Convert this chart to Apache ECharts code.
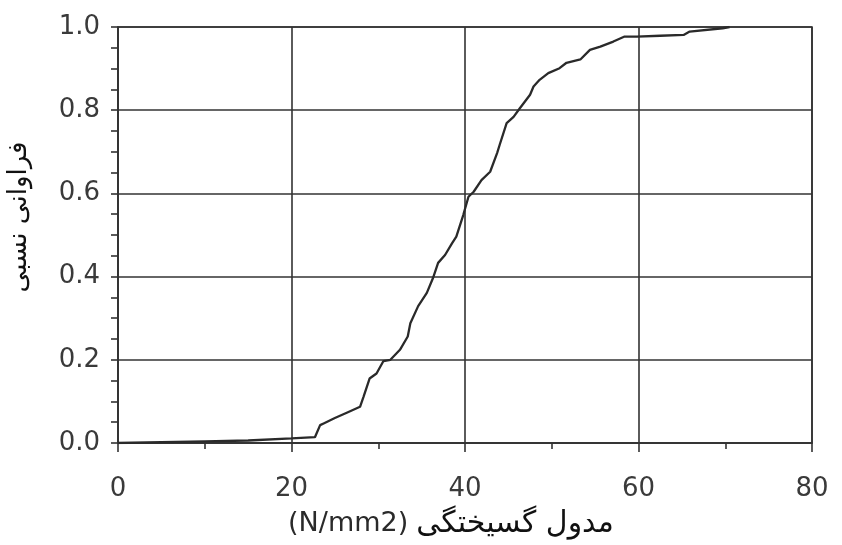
<!DOCTYPE html>
<html><head><meta charset="utf-8">
<script src="https://cdn.jsdelivr.net/npm/echarts@6/dist/echarts.min.js"></script>
<style>html,body{margin:0;padding:0;background:#fff}#c{width:842px;height:545px}</style>
</head><body><div id="c"></div>
<script>
// Modulus of rupture (N/mm2)
const strengthValues = [0, 5, 10, 15, 20, 22.7, 23.3, 23.7, 25.0, 26.5, 27.9, 28.3, 29.0, 29.8, 30.6, 31.4, 32.5, 33.4, 33.7, 34.6, 35.6, 36.3, 36.9, 37.7, 38.5, 39.0, 39.8, 40.4, 41.0, 41.9, 42.9, 43.7, 44.0, 44.8, 45.6, 46.3, 47.5, 47.9, 48.6, 49.6, 50.9, 51.7, 53.3, 54.4, 55.6, 57.1, 58.4, 59.8, 62.5, 65.2, 65.9, 69.7, 70.5];
// Relative cumulative frequency
const cumulativeFreq = [0, 0.002, 0.004, 0.006, 0.011, 0.014, 0.043, 0.047, 0.060, 0.074, 0.087, 0.111, 0.155, 0.167, 0.197, 0.2, 0.224, 0.256, 0.288, 0.329, 0.361, 0.396, 0.433, 0.452, 0.48, 0.496, 0.548, 0.592, 0.604, 0.632, 0.652, 0.697, 0.717, 0.769, 0.784, 0.804, 0.837, 0.857, 0.873, 0.889, 0.901, 0.914, 0.922, 0.945, 0.953, 0.965, 0.977, 0.977, 0.979, 0.981, 0.989, 0.997, 1.0];
const xTickLabels = [0, 20, 40, 60, 80];
const yTickLabels = ['0.0', '0.2', '0.4', '0.6', '0.8', '1.0'];
const xTitleUnit = '(N/mm2)';
const xTitleText = 'مدول گسیختگی';
const yTitleText = 'فراوانی نسبی';

const points = strengthValues.map((v, i) => [v, cumulativeFreq[i]]);
const chart = echarts.init(document.getElementById('c'), null, {renderer: 'canvas'});
const latin = '"DejaVu Sans", "Liberation Sans", Arial, sans-serif';
const lineCol = '#333';
chart.setOption({
  animation: false,
  backgroundColor: '#fff',
  grid: {left: 118, right: 30, top: 27, bottom: 102, containLabel: false, outerBoundsMode: 'none',
    show: true, borderColor: lineCol, borderWidth: 1.6},
  xAxis: {
    type: 'value', min: 0, max: 80, interval: 20,
    axisLine: {show: true, onZero: false, lineStyle: {color: lineCol, width: 1.6}},
    axisTick: {show: true, inside: false, length: 9, lineStyle: {color: lineCol, width: 1.6}},
    minorTick: {show: true, splitNumber: 2, length: 6, lineStyle: {color: lineCol, width: 1.6}},
    splitLine: {show: true, lineStyle: {color: lineCol, width: 1.6}},
    axisLabel: {fontSize: 26, color: '#3a3a3a', fontFamily: latin, margin: 33,
      formatter: v => String(xTickLabels[xTickLabels.indexOf(v)])},
    name: '{u|' + xTitleUnit + '}{p|' + xTitleText + '}',
    nameLocation: 'middle', nameGap: 66,
    nameTextStyle: {padding: [0, 28, 0, 0], rich: {
      u: {fontSize: 27, color: '#2a2a2a', fontFamily: latin, padding: [0, 8, 0, 0]},
      p: {fontSize: 30, color: '#111', fontFamily: '"DejaVu Sans", serif'}
    }}
  },
  yAxis: {
    type: 'value', min: 0, max: 1, interval: 0.2,
    axisLine: {show: true, onZero: false, lineStyle: {color: lineCol, width: 1.6}},
    axisTick: {show: true, inside: false, length: 7, lineStyle: {color: lineCol, width: 1.6}},
    minorTick: {show: true, splitNumber: 4, length: 7, lineStyle: {color: lineCol, width: 1.6}},
    splitLine: {show: true, lineStyle: {color: lineCol, width: 1.6}},
    axisLabel: {fontSize: 26, color: '#3a3a3a', fontFamily: latin, margin: 18,
      formatter: v => yTickLabels[Math.round(v * 5)]},
    name: yTitleText, nameLocation: 'middle', nameGap: 86,
    nameTextStyle: {fontSize: 26, color: '#111', fontFamily: '"DejaVu Sans", serif', padding: [0, 0, 0, 36]}
  },
  series: [{
    type: 'line', data: points, showSymbol: false, smooth: false,
    lineStyle: {color: '#2a2a2a', width: 2.3}
  }]
});
</script></body></html>
